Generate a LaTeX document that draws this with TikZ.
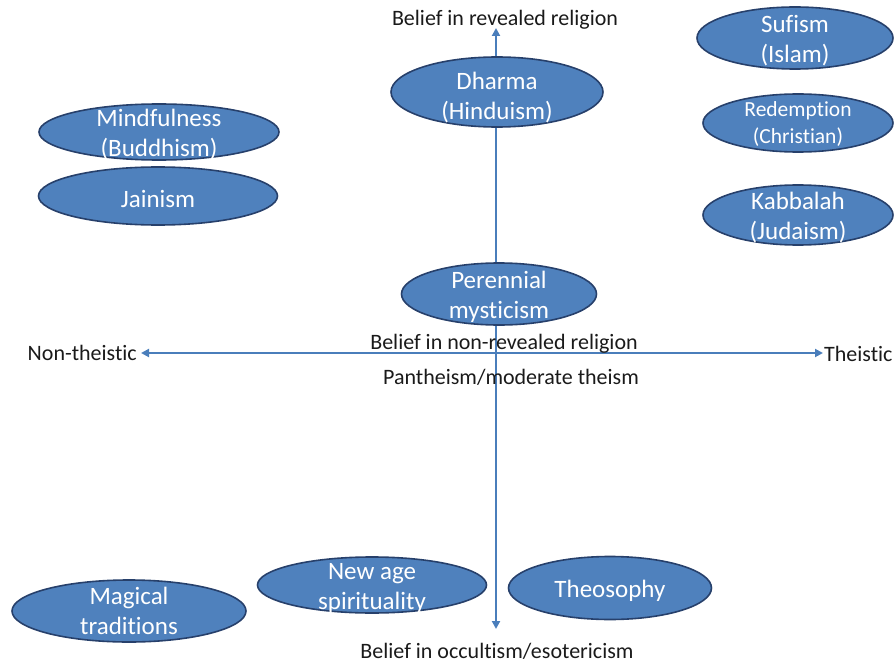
\documentclass[tikz,border=0pt]{standalone}
\usepackage{fontspec}
\setmainfont{Carlito}[RawFeature={-liga;-clig}]
\usetikzlibrary{shapes.geometric,arrows.meta}
\definecolor{axisblue}{HTML}{4A7EBB}
\definecolor{ellfill}{HTML}{4F81BD}
\definecolor{ellborder}{HTML}{27406B}
\definecolor{txtdark}{HTML}{1A1A1A}
\tikzset{
  blob/.style={ellipse, draw=ellborder, fill=ellfill, line width=1.6pt, inner sep=0pt},
  intext/.style={text=white, align=center, yshift=-3pt, font=\fontsize{25}{30}\selectfont},
  smalltext/.style={text=white, align=center, yshift=-1pt, font=\fontsize{21.5}{27}\selectfont},
  axislabel/.style={text=txtdark, inner sep=0pt, font=\fontsize{22}{26}\selectfont},
  axisline/.style={draw=axisblue, line width=2pt, {Triangle[length=8pt,width=8pt]}-{Triangle[length=8pt,width=8pt]}}
}
\begin{document}
\begin{tikzpicture}[x=1pt,y=-1pt]
\useasboundingbox (0,0) rectangle (896,663);
% axis end points
\coordinate (top) at (496,28);
\coordinate (bottom) at (496,629);
\coordinate (left) at (141,353);
\coordinate (right) at (823,353);
\draw[axisline] (bottom) -- (top);
\draw[axisline] (left) -- (right);
% axis labels
\node[axislabel] (lrev) at (505,20) {Belief in revealed religion};
\node[axislabel] (lnonrev) at (504,344) {Belief in non-revealed religion};
\node[axislabel] (lpanth) at (511,377) {Pantheism/moderate theism};
\node[axislabel] (locc) at (497,651) {Belief in occultism/esotericism};
\node[axislabel, anchor=east] (lnon) at (137,353) {Non-theistic};
\node[axislabel, anchor=west] (ltheo) at (824,354) {Theistic};
% ellipses
\node[blob, minimum width=212pt, minimum height=70pt, label={[intext, yshift=-3pt]center:{Dharma\\(Hinduism)}}] (dharma) at (497,92) {};
\node[blob, minimum width=196pt, minimum height=62pt, label={[intext]center:{Sufism\\(Islam)}}] (sufism) at (795,38) {};
\node[blob, minimum width=190pt, minimum height=58pt, label={[smalltext]center:{Redemption\\(Christian)}}] (redemption) at (798,123) {};
\node[blob, minimum width=190pt, minimum height=60pt, label={[intext]center:{Kabbalah\\(Judaism)}}] (kabbalah) at (798,215) {};
\node[blob, minimum width=240pt, minimum height=56pt, label={[intext]center:{Mindfulness\\(Buddhism)}}] (mindful) at (159,132) {};
\node[blob, minimum width=239pt, minimum height=58pt, label={[intext]center:{Jainism}}] (jain) at (158,196) {};
\node[blob, minimum width=195pt, minimum height=62pt, label={[intext]center:{Perennial\\mysticism}}] (perennial) at (499,294) {};
\node[blob, minimum width=234pt, minimum height=62pt, label={[intext, yshift=3pt]center:{Magical\\traditions}}] (magical) at (129,611) {};
\node[blob, minimum width=229pt, minimum height=56pt, label={[intext]center:{New age\\spirituality}}] (newage) at (372,585) {};
\node[blob, minimum width=203pt, minimum height=63pt, label={[intext]center:{Theosophy}}] (theosophy) at (610,588) {};
\end{tikzpicture}
\end{document}
